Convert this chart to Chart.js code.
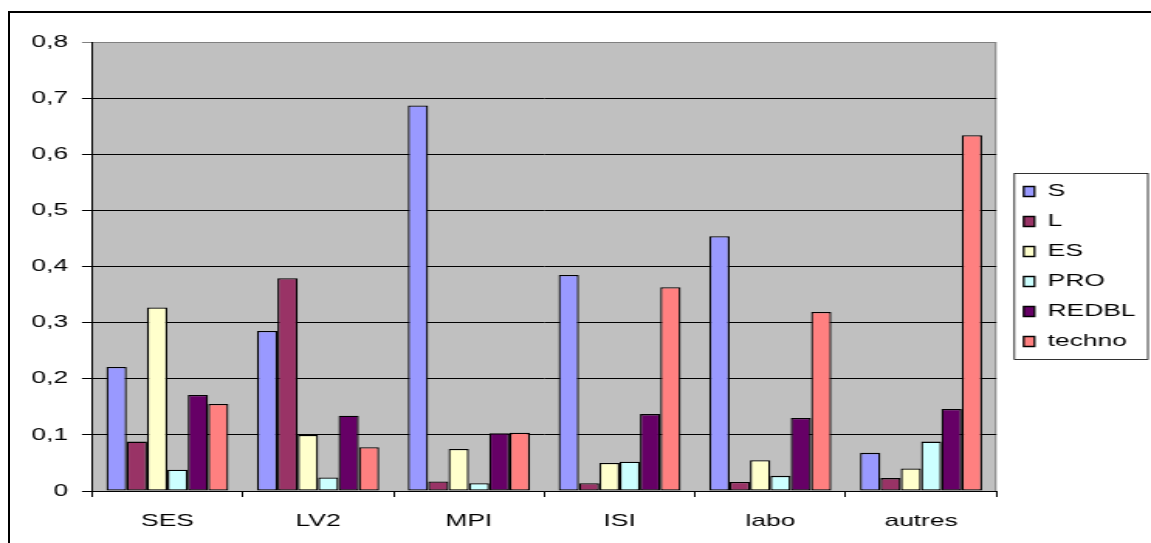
<!DOCTYPE html>
<html>
<head>
<meta charset="utf-8">
<script src="https://cdn.jsdelivr.net/npm/chart.js@4"></script>
<style>
    html, body { margin: 0; padding: 0; background: #fff; overflow: hidden; }
    #wrap { position: relative; width: 1151px; height: 543px; overflow: hidden; }
    #frame { position: absolute; left: 8px; top: 11px; width: 1300px; height: 700px;
             border: 2px solid #000; pointer-events: none; }
    /* the original picture is stretched sideways, text included */
    #stretch { position: absolute; left: 0; top: 0; width: 743px; height: 543px;
               transform: scaleX(1.5491); transform-origin: 0 0; }
    canvas { display: block; }
</style>
</head>
<body>
<div id="wrap">
    <div id="frame"></div>
    <div id="stretch"><canvas id="barChart" width="743" height="543"></canvas></div>
</div>
<script>
// Data
const categories = ['SES', 'LV2', 'MPI', 'ISI', 'labo', 'autres'];
const seriesNames = ['S', 'L', 'ES', 'PRO', 'REDBL', 'techno'];
const seriesColors = ['#9999FF', '#993366', '#FFFFCC', '#CCFFFF', '#660066', '#FF8080'];

const valuesS      = [0.221, 0.285, 0.687, 0.385, 0.454, 0.068];
const valuesL      = [0.088, 0.379, 0.017, 0.014, 0.016, 0.023];
const valuesES     = [0.327, 0.100, 0.075, 0.050, 0.055, 0.040];
const valuesPRO    = [0.038, 0.024, 0.014, 0.052, 0.027, 0.088];
const valuesREDBL  = [0.171, 0.134, 0.103, 0.137, 0.130, 0.146];
const valuesTechno = [0.155, 0.078, 0.104, 0.363, 0.319, 0.634];

const allValues = [valuesS, valuesL, valuesES, valuesPRO, valuesREDBL, valuesTechno];

const yMin = 0;
const yMax = 0.8;
const yStep = 0.1;

Chart.defaults.font.family = '"Liberation Sans", Arial, sans-serif';
Chart.defaults.font.size = 17;
Chart.defaults.color = '#000';

// Grey plot area with its frame
const plotArea = {
    id: 'plotArea',
    beforeDraw(chart) {
        const { ctx, chartArea: a } = chart;
        ctx.save();
        ctx.fillStyle = '#C0C0C0';
        ctx.fillRect(a.left, a.top, a.right - a.left, a.bottom - a.top);
        ctx.strokeStyle = '#808080';
        ctx.lineWidth = 1;
        ctx.beginPath();
        ctx.moveTo(a.left, a.top + 0.5);
        ctx.lineTo(a.right - 0.5, a.top + 0.5);
        ctx.lineTo(a.right - 0.5, a.bottom);
        ctx.stroke();
        ctx.restore();
    }
};

// Box round the legend
const legendBox = {
    id: 'legendBox',
    afterDraw(chart) {
        const legend = chart.legend;
        if (!legend || !legend.legendHitBoxes.length) return;
        const boxes = legend.legendHitBoxes;
        const first = boxes[0];
        const last = boxes[boxes.length - 1];
        const left = first.left - 6;
        const top = first.top - 10;
        const bottom = last.top + last.height + 9;
        const right = chart.width - 2;
        const ctx = chart.ctx;
        ctx.save();
        ctx.strokeStyle = '#000';
        ctx.lineWidth = 0.8;
        ctx.strokeRect(left, Math.round(top) + 0.5, right - left, Math.round(bottom - top));
        ctx.restore();
    }
};

const datasets = seriesNames.map((name, i) => ({
    label: name,
    data: allValues[i],
    backgroundColor: seriesColors[i],
    borderColor: '#000',
    borderWidth: 1.3,
    borderSkipped: false,
    categoryPercentage: 0.81,
    barPercentage: 1.0
}));

new Chart(document.getElementById('barChart'), {
    type: 'bar',
    data: { labels: categories, datasets: datasets },
    plugins: [plotArea, legendBox],
    options: {
        responsive: false,
        animation: false,
        layout: { padding: { top: 42, left: 0, right: 0, bottom: 0 } },
        plugins: {
            tooltip: { enabled: false },
            legend: {
                position: 'right',
                fullSize: false,
                labels: {
                    boxWidth: 7,
                    boxHeight: 10,
                    padding: 13,
                    color: '#000',
                    font: { size: 17 }
                }
            }
        },
        scales: {
            x: {
                grid: {
                    drawOnChartArea: false,
                    drawTicks: true,
                    tickLength: 6,
                    color: '#000',
                    offset: true
                },
                border: { color: '#000', width: 1 },
                ticks: { padding: 14, font: { size: 17 } },
                afterFit(scale) { scale.height = 52; }
            },
            y: {
                min: yMin,
                max: yMax,
                ticks: {
                    stepSize: yStep,
                    padding: 9,
                    font: { size: 17 },
                    callback: v => v === 0 ? '0' : v.toFixed(1).replace('.', ',')
                },
                grid: {
                    color: ctx => (ctx.tick && Math.abs(ctx.tick.value - yMax) < 1e-9) ? '#808080' : '#000',
                    tickLength: 6.5,
                    lineWidth: 1
                },
                border: { color: '#000', width: 1 },
                afterFit(scale) { scale.width = 59.4; }
            },
            gap: {
                type: 'linear',
                position: 'right',
                display: true,
                ticks: { display: false },
                grid: { display: false },
                border: { display: false },
                afterFit(scale) { scale.width = 4.6; }
            }
        }
    }
});
</script>
</body>
</html>
